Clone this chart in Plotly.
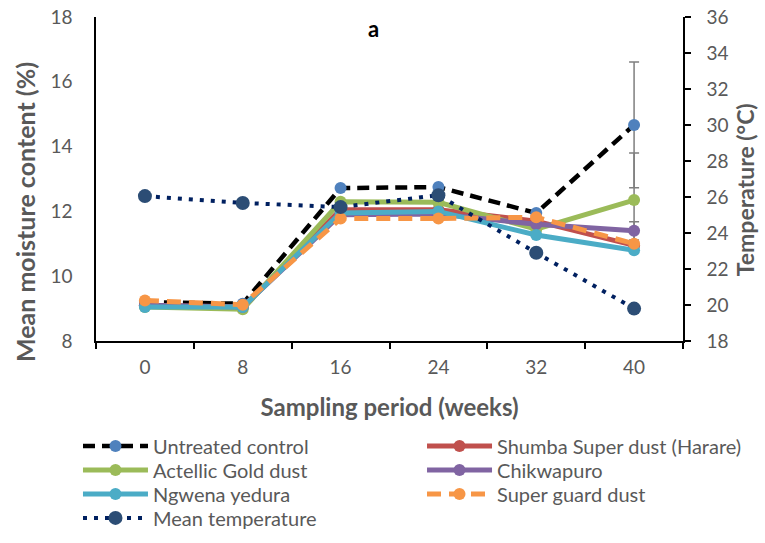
import plotly.graph_objects as go

weeks = ["0", "8", "16", "24", "32", "40"]

untreated = [9.2, 9.15, 12.72, 12.75, 11.95, 14.67]
untreated_err = [None, None, None, None, None, 1.94]
shumba = [9.1, 9.05, 12.05, 12.05, 11.7, 10.95]
actellic = [9.05, 8.98, 12.3, 12.28, 11.45, 12.35]
actellic_err = [None, None, None, None, None, 1.45]
chikwapuro = [9.1, 9.05, 11.9, 11.92, 11.6, 11.4]
chikwapuro_err = [None, None, None, None, None, 0.28]
ngwena = [9.05, 9.05, 11.95, 12.0, 11.27, 10.8]
superguard = [9.25, 9.12, 11.78, 11.78, 11.82, 11.0]
temperature = [26.05, 25.67, 25.44, 26.1, 22.9, 19.8]

FONT = "Lato"
GREY = "#595959"
ERRC = "#7F7F7F"

fig = go.Figure()

def err(arr):
    return dict(type="data", array=arr, visible=True, color=ERRC, thickness=1.5, width=5)

fig.add_trace(go.Scatter(x=weeks, y=untreated, name="Untreated control", mode="lines+markers",
                         line=dict(color="black", width=4.5, dash="12px,7px"),
                         marker=dict(color="#4F81BD", size=12),
                         error_y=err(untreated_err), legend="legend"))
fig.add_trace(go.Scatter(x=weeks, y=shumba, name="Shumba Super dust (Harare)", mode="lines+markers",
                         line=dict(color="#C0504D", width=5),
                         marker=dict(color="#C0504D", size=12), legend="legend2"))
fig.add_trace(go.Scatter(x=weeks, y=actellic, name="Actellic Gold dust", mode="lines+markers",
                         line=dict(color="#9BBB59", width=5),
                         marker=dict(color="#9BBB59", size=12),
                         error_y=err(actellic_err), legend="legend3"))
fig.add_trace(go.Scatter(x=weeks, y=chikwapuro, name="Chikwapuro", mode="lines+markers",
                         line=dict(color="#8064A2", width=5),
                         marker=dict(color="#8064A2", size=12),
                         error_y=err(chikwapuro_err), legend="legend4"))
fig.add_trace(go.Scatter(x=weeks, y=ngwena, name="Ngwena yedura", mode="lines+markers",
                         line=dict(color="#4BACC6", width=5),
                         marker=dict(color="#4BACC6", size=12), legend="legend5"))
fig.add_trace(go.Scatter(x=weeks, y=superguard, name="Super guard dust", mode="lines+markers",
                         line=dict(color="#F79646", width=5, dash="14px,8px"),
                         marker=dict(color="#F79646", size=12), legend="legend6"))
fig.add_trace(go.Scatter(x=weeks, y=temperature, name="Mean temperature", mode="lines+markers",
                         line=dict(color="#002060", width=4, dash="4px,7px"),
                         marker=dict(color="#2C4D75", size=14), yaxis="y2", legend="legend7"))

col_x = [-0.0307, 0.5554]
row_y = [-0.324, -0.398, -0.472, -0.546]
legend_pos = [(0, 0), (1, 0), (0, 1), (1, 1), (0, 2), (1, 2), (0, 3)]

def leg(ci, ri):
    return dict(x=col_x[ci], y=row_y[ri], xanchor="left", yanchor="middle", itemwidth=65,
                font=dict(size=20, color=GREY, family=FONT), bgcolor="rgba(0,0,0,0)",
                borderwidth=0)

legends = {}
for i, (ci, ri) in enumerate(legend_pos):
    key = "legend" if i == 0 else "legend%d" % (i + 1)
    legends[key] = leg(ci, ri)

fig.update_layout(
    width=765, height=543,
    margin=dict(l=96, r=82, t=17, b=202, autoexpand=False),
    plot_bgcolor="white", paper_bgcolor="white",
    font=dict(family=FONT, color=GREY, size=19),
    showlegend=True,
    xaxis=dict(type="category", range=[-0.5, 5.5], showline=True, linecolor="black", linewidth=1.5,
               ticks="outside", tickson="boundaries", ticklen=6, tickcolor="black", tickwidth=1.5,
               showgrid=False, zeroline=False, ticklabelstandoff=8,
               tickfont=dict(size=19, color=GREY),
               title=dict(text="<b>Sampling period (weeks)</b>", font=dict(size=24, color=GREY), standoff=23)),
    yaxis=dict(range=[8, 18], dtick=2, showline=True, linecolor="black", linewidth=1.5,
               ticks="", showgrid=False, zeroline=False, ticklabelstandoff=18,
               tickfont=dict(size=19, color=GREY)),
    yaxis2=dict(range=[18, 36], dtick=2, overlaying="y", side="right", showline=True, linecolor="black",
                linewidth=1.5, ticks="outside", ticklen=6, tickcolor="black", tickwidth=1.5,
                showgrid=False, zeroline=False, ticklabelstandoff=12,
                tickfont=dict(size=19, color=GREY)),
    annotations=[
        dict(text="<b>a</b>", x=0.472, y=0.965, xref="paper", yref="paper",
             xanchor="center", yanchor="middle",
             showarrow=False, font=dict(size=22, color="black", family=FONT)),
        dict(text="<b>Mean moisture content (%)</b>", x=-0.121, y=0.398, xref="paper", yref="paper",
             xanchor="center", yanchor="middle", textangle=-90, showarrow=False,
             font=dict(size=25, color=GREY, family=FONT)),
        dict(text="<b>Temperature (°C)</b>", x=1.106, y=0.466, xref="paper", yref="paper",
             xanchor="center", yanchor="middle", textangle=-90, showarrow=False,
             font=dict(size=23, color=GREY, family=FONT)),
    ],
    **legends,
)

fig.write_html("out.html")
